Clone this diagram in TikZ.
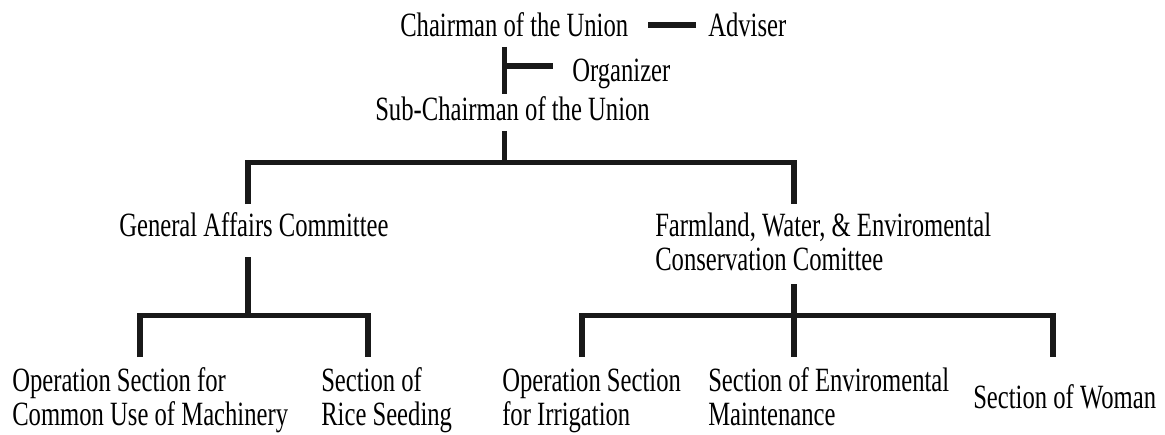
\documentclass[tikz,border=0pt]{standalone}
\usepackage{fontspec}
\setmainfont{Liberation Serif}[FakeStretch=0.725]
\begin{document}
\begin{tikzpicture}[x=0.75pt,y=-0.75pt,
  lbl/.style={anchor=base west,inner sep=0pt,align=left,font=\fontsize{25.5}{25.5}\selectfont},
  conn/.style={line width=4.1pt,draw=black!90,line join=miter,line cap=butt}]
\useasboundingbox (0,0) rectangle (1165,435);
% texts (multi-line nodes are anchored at the baseline of their last line)
\node[lbl] (chair) at (400,37) {Chairman of the Union};
\node[lbl] (adviser) at (708,37) {Adviser};
\node[lbl] (organizer) at (572,82) {Organizer};
\node[lbl] (sub) at (375,121) {Sub-Chairman of the Union};
\node[lbl] (gen) at (119,236) {General Affairs Committee};
\node[lbl] (farm) at (655,270) {Farmland, Water, \& Enviromental\\Conservation Comittee};
\node[lbl] (mach) at (12,425) {Operation Section for\\Common Use of Machinery};
\node[lbl] (rice) at (321,425) {Section of\\Rice Seeding};
\node[lbl] (irr) at (502,425) {Operation Section\\for Irrigation};
\node[lbl] (env) at (708,425) {Section of Enviromental\\Maintenance};
\node[lbl] (woman) at (973,408) {Section of Woman};
% junction coordinates
\coordinate (chairS) at (504.5,47);
\coordinate (subN) at (504.5,94);
\coordinate (orgJ) at (504.5,66);
\coordinate (orgW) at (553,66);
\coordinate (chairE) at (648,25);
\coordinate (advW) at (696,25);
\coordinate (subS) at (504.5,131);
\coordinate (barT) at (504.5,162.5);
\coordinate (barL) at (248,162.5);
\coordinate (barR) at (794,162.5);
\coordinate (genN) at (248,204);
\coordinate (farmN) at (794,204);
\coordinate (genS) at (248,257);
\coordinate (genBar) at (248,315.5);
\coordinate (lbL) at (140,315.5);
\coordinate (lbR) at (368,315.5);
\coordinate (machN) at (140,357);
\coordinate (riceN) at (368,357);
\coordinate (farmS) at (794,284);
\coordinate (rbM) at (794,315.5);
\coordinate (rbL) at (582,315.5);
\coordinate (rbR) at (1053,315.5);
\coordinate (irrN) at (582,357);
\coordinate (envN) at (794,357);
\coordinate (womanN) at (1053,357);
% connectors
\draw[conn] (chairS) -- (subN);
\draw[conn] (orgJ) -- (orgW);
\draw[conn] (chairE) -- (advW);
\draw[conn] (subS) -- (barT);
\draw[conn] (genN) -- (barL) -- (barR) -- (farmN);
\draw[conn] (genS) -- (genBar);
\draw[conn] (machN) -- (lbL) -- (lbR) -- (riceN);
\draw[conn] (farmS) -- (envN);
\draw[conn] (irrN) -- (rbL) -- (rbR) -- (womanN);
\end{tikzpicture}
\end{document}
